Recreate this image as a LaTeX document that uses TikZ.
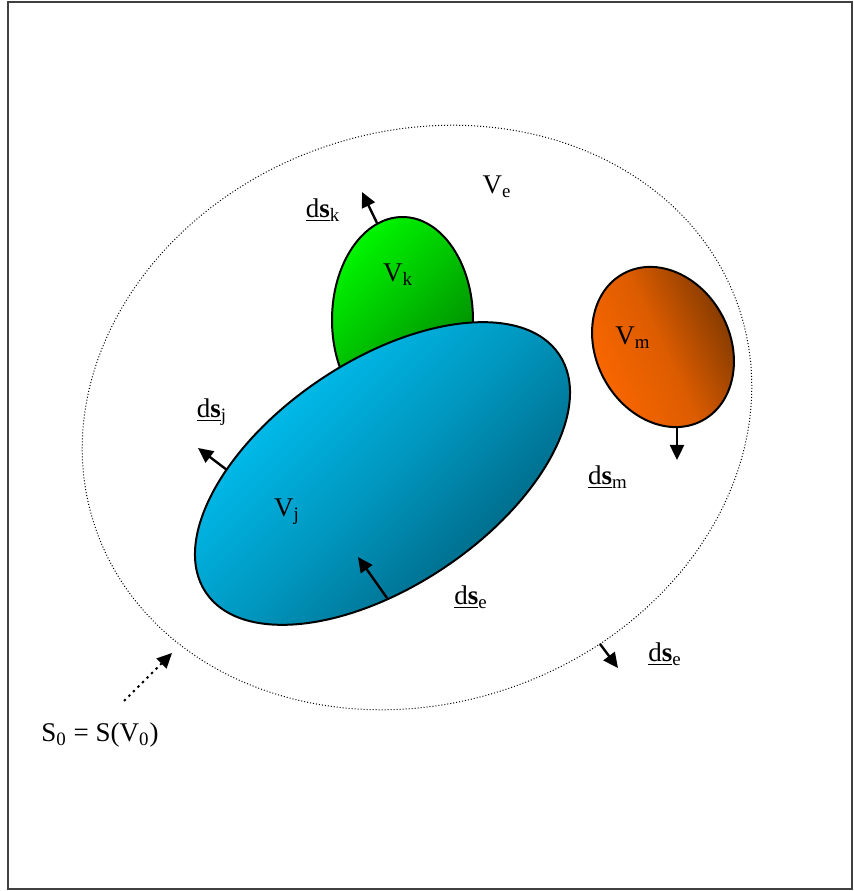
\documentclass[tikz,border=0pt]{standalone}
\usepackage{fontspec}
\setmainfont{Liberation Serif}
\usetikzlibrary{arrows.meta}
\definecolor{vjlight}{RGB}{0,204,255}
\definecolor{vjdark}{RGB}{0,88,115}
\definecolor{vklight}{RGB}{0,245,0}
\definecolor{vkdark}{RGB}{0,125,0}
\definecolor{vmlight}{RGB}{255,105,0}
\definecolor{vmdark}{RGB}{115,52,0}
\begin{document}
\begin{tikzpicture}[x=0.5pt, y=0.5pt, every node/.style={font=\fontsize{13.5}{16}\selectfont}]
    \tikzset{
      blob/.style={draw, line width=1pt},
      normal/.style={line width=1.2pt, -{Triangle[length=7.5pt,width=7pt]}}
    }
    \useasboundingbox (0,0) rectangle (854,891);
    \draw[line width=0.8pt, black!75] (8,2) rectangle (852,889);
    \coordinate (vec) at (417,473.5);
    \coordinate (vjc) at (382.5,417.5);
    \coordinate (vkc) at (402.5,571);
    \coordinate (vmc) at (663,544);
    \draw[densely dotted, line width=0.5pt] (vec) ellipse [x radius=340, y radius=286, rotate=19];
    \shade[blob, top color=vklight, bottom color=vkdark, shading angle=45] (vkc) ellipse [x radius=70.5, y radius=103];
    \shade[blob, top color=vjlight, bottom color=vjdark, middle color=vjlight!55!vjdark, shading angle=45] (vjc) ellipse [x radius=213, y radius=112.6, rotate=34];
    \shade[blob, top color=vmdark, bottom color=vmlight, middle color=vmlight!75!vmdark, shading angle=-65] (vmc) ellipse [x radius=67, y radius=83.4, rotate=28];
    \coordinate (nk0) at (377,668);
    \coordinate (nk1) at (362,699);
    \coordinate (nj0) at (227,421);
    \coordinate (nj1) at (198,443);
    \coordinate (ne0) at (387,293);
    \coordinate (ne1) at (358,334);
    \coordinate (nm0) at (677,463);
    \coordinate (nm1) at (677,431);
    \coordinate (no0) at (600,247);
    \coordinate (no1) at (618,223);
    \coordinate (so0) at (124,190);
    \coordinate (so1) at (172,238);
    \draw[normal] (nk0) -- (nk1);
    \draw[normal] (nj0) -- (nj1);
    \draw[normal] (ne0) -- (ne1);
    \draw[normal] (nm0) -- (nm1);
    \draw[normal] (no0) -- (no1);
    \draw[normal, dotted, line width=1pt] (so0) -- (so1);
    \node (ve) at (497,704) {V\textsubscript{e}};
    \node (vk) at (398,616) {V\textsubscript{k}};
    \node (vj) at (287,379) {V\textsubscript{j}};
    \node (vm) at (633,553) {V\textsubscript{m}};
    \node (dsk) at (323,681) {\underline{d\textbf{s}}\textsubscript{k}};
    \node (dsj) at (212,479) {\underline{d\textbf{s}}\textsubscript{j}};
    \node (dsm) at (608,414) {\underline{d\textbf{s}}\textsubscript{m}};
    \node (dse) at (471,294) {\underline{d\textbf{s}}\textsubscript{e}};
    \node (dso) at (665,237) {\underline{d\textbf{s}}\textsubscript{e}};
    \node (s0) at (100,156) {S\textsubscript{0} = S(V\textsubscript{0})};
  \end{tikzpicture}
\end{document}
